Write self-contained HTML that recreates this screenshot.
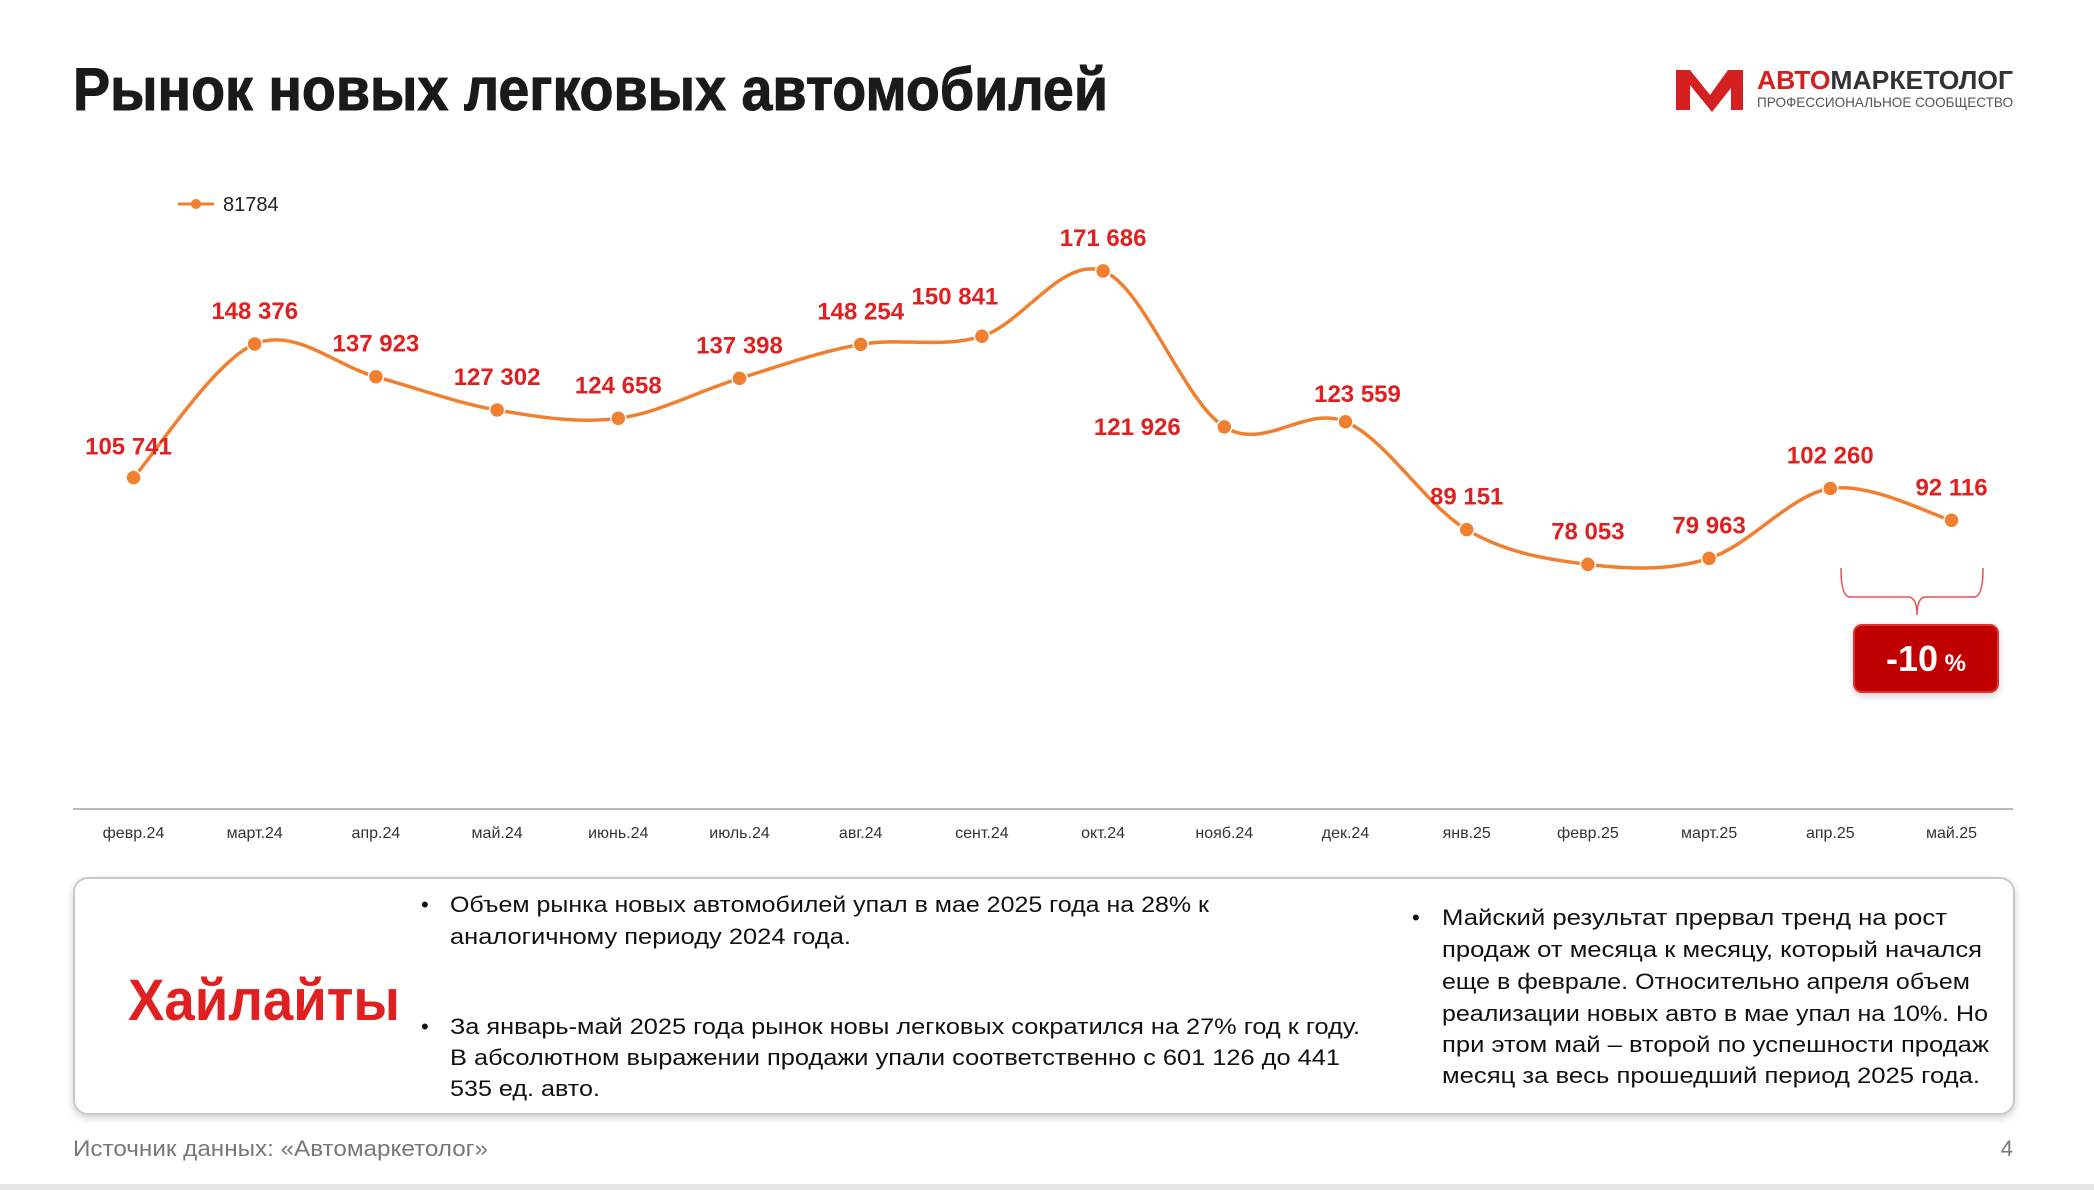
<!DOCTYPE html>
<html><head><meta charset="utf-8"><style>
html,body{margin:0;padding:0;background:#fff;width:2094px;height:1190px;overflow:hidden}
svg{display:block;font-family:"Liberation Sans","Noto Sans CJK SC",sans-serif}
</style></head><body>
<svg id="chart" width="2094" height="1190" viewBox="0 0 2094 1190">
<defs><filter id="sh" x="-10%" y="-10%" width="120%" height="130%"><feDropShadow dx="0" dy="3" stdDeviation="4" flood-color="#000" flood-opacity="0.18"/></filter></defs>
<text x="73" y="110" font-size="60" font-weight="bold" fill="#1a1a1a" stroke="#1a1a1a" stroke-width="1" textLength="1035" lengthAdjust="spacingAndGlyphs">Рынок новых легковых автомобилей</text>
<g>
<path d="M1676 70 L1690 70 L1710 95 L1728 70 L1743 70 L1743 110 L1731 110 L1731 88 L1712 112 L1690 85 L1690 110 L1676 110 Z" fill="#d42020"/>
<text x="1757" y="89" font-size="26" font-weight="bold" textLength="256" lengthAdjust="spacingAndGlyphs"><tspan fill="#d42020">АВТО</tspan><tspan fill="#333">МАРКЕТОЛОГ</tspan></text>
<text x="1757" y="107" font-size="14" fill="#555" textLength="256" lengthAdjust="spacingAndGlyphs">ПРОФЕССИОНАЛЬНОЕ СООБЩЕСТВО</text>
</g>
<g>
<line x1="178" y1="204" x2="214" y2="204" stroke="#f08030" stroke-width="3"/>
<circle cx="196" cy="204" r="5" fill="#f08030"/>
<text x="223" y="211" font-size="20" fill="#222">81784</text>
</g>
<line x1="73" y1="809" x2="2013" y2="809" stroke="#bbb" stroke-width="2"/>
<g id="plot"></g>
<g>
<path d="M1841 568 Q1841 597 1850 597 L1908 597 Q1917 597 1917 615 Q1917 597 1926 597 L1974 597 Q1983 597 1983 568" fill="none" stroke="#e85050" stroke-width="1.5"/>
<rect x="1854" y="625" width="144" height="67" rx="8" fill="#c00000" stroke="#e03030" stroke-width="2" filter="url(#sh)"/>
<text x="1926" y="671" text-anchor="middle" fill="#fff" font-weight="bold"><tspan font-size="36">-10</tspan><tspan font-size="24"> %</tspan></text>
</g>
<g>
<rect x="74" y="878" width="1940" height="236" rx="14" fill="#fff" stroke="#c8c8c8" stroke-width="2" filter="url(#sh)"/>
<text x="128" y="1020" font-size="58" font-weight="bold" fill="#e02020" textLength="272" lengthAdjust="spacingAndGlyphs">Хайлайты</text>
<g font-size="22" fill="#111">
<text x="421" y="912">•</text>
<text x="450" y="912" textLength="759" lengthAdjust="spacingAndGlyphs">Объем рынка новых автомобилей упал в мае 2025 года на 28% к</text>
<text x="450" y="944" textLength="401" lengthAdjust="spacingAndGlyphs">аналогичному периоду 2024 года.</text>
<text x="421" y="1034">•</text>
<text x="450" y="1034" textLength="910" lengthAdjust="spacingAndGlyphs">За январь-май 2025 года рынок новы легковых сократился на 27% год к году.</text>
<text x="450" y="1065" textLength="890" lengthAdjust="spacingAndGlyphs">В абсолютном выражении продажи упали соответственно с 601 126 до 441</text>
<text x="450" y="1096" textLength="150" lengthAdjust="spacingAndGlyphs">535 ед. авто.</text>
</g>
<g font-size="22" fill="#111">
<text x="1412" y="925">•</text>
<text x="1442" y="925" textLength="505" lengthAdjust="spacingAndGlyphs">Майский результат прервал тренд на рост</text>
<text x="1442" y="957" textLength="540" lengthAdjust="spacingAndGlyphs">продаж от месяца к месяцу, который начался</text>
<text x="1442" y="989" textLength="528" lengthAdjust="spacingAndGlyphs">еще в феврале. Относительно апреля объем</text>
<text x="1442" y="1021" textLength="546" lengthAdjust="spacingAndGlyphs">реализации новых авто в мае упал на 10%. Но</text>
<text x="1442" y="1052" textLength="547" lengthAdjust="spacingAndGlyphs">при этом май – второй по успешности продаж</text>
<text x="1442" y="1083" textLength="538" lengthAdjust="spacingAndGlyphs">месяц за весь прошедший период 2025 года.</text>
</g>
</g>
<text x="73" y="1156" font-size="22" fill="#777" textLength="415" lengthAdjust="spacingAndGlyphs">Источник данных: «Автомаркетолог»</text>
<text x="2013" y="1156" font-size="22" fill="#777" text-anchor="end">4</text>
<rect x="0" y="1184" width="2094" height="6" fill="#e6e6e6"/>
</svg>
<script>
const months = ["февр.24","март.24","апр.24","май.24","июнь.24","июль.24","авг.24","сент.24","окт.24","нояб.24","дек.24","янв.25","февр.25","март.25","апр.25","май.25"];
const values = [105741,148376,137923,127302,124658,137398,148254,150841,171686,121926,123559,89151,78053,79963,102260,92116];
const labelDx = [-5,0,0,0,0,0,0,-27,0,-87,12,0,0,0,0,0];
const labelDy = [-31,-33,-33,-33,-33,-33,-33,-40,-33,0,-28,-33,-33,-33,-33,-33];
const ns="http://www.w3.org/2000/svg";
const plot=document.getElementById('plot');
function xPos(i){return 133.5+i*121.2;}
function yPos(v){return 809-v*0.003134;}
const pts=values.map((v,i)=>[xPos(i),yPos(v)]);
let d="M"+pts[0][0]+" "+pts[0][1];
for(let i=0;i<pts.length-1;i++){
  const p0=pts[Math.max(0,i-1)],p1=pts[i],p2=pts[i+1],p3=pts[Math.min(pts.length-1,i+2)];
  const t=0.5/3;
  d+=" C"+(p1[0]+(p2[0]-p0[0])*t)+" "+(p1[1]+(p2[1]-p0[1])*t)+" "+(p2[0]-(p3[0]-p1[0])*t)+" "+(p2[1]-(p3[1]-p1[1])*t)+" "+p2[0]+" "+p2[1];
}
const path=document.createElementNS(ns,'path');
path.setAttribute('d',d);path.setAttribute('fill','none');path.setAttribute('stroke','#f08030');path.setAttribute('stroke-width','3.5');


plot.appendChild(path);
values.forEach((v,i)=>{
  const c=document.createElementNS(ns,'circle');
  c.setAttribute('cx',xPos(i));c.setAttribute('cy',yPos(v));c.setAttribute('r','7.5');
  c.setAttribute('fill','#f08030');c.setAttribute('stroke','#fff');c.setAttribute('stroke-width','1.5');
  
  
  plot.appendChild(c);
  const t=document.createElementNS(ns,'text');
  t.setAttribute('x',xPos(i)+labelDx[i]);t.setAttribute('y',yPos(v)+labelDy[i]+8);
  t.setAttribute('text-anchor','middle');t.setAttribute('font-size','24');t.setAttribute('font-weight','bold');t.setAttribute('fill','#e02020');
  t.textContent=v.toLocaleString('ru-RU').replace(/\s/g,' ');
  
  
  plot.appendChild(t);
  const m=document.createElementNS(ns,'text');
  m.setAttribute('x',xPos(i));m.setAttribute('y',838);m.setAttribute('text-anchor','middle');m.setAttribute('font-size','16');m.setAttribute('fill','#333');
  m.textContent=months[i];
  
  
  plot.appendChild(m);
});
</script>
</body></html>
